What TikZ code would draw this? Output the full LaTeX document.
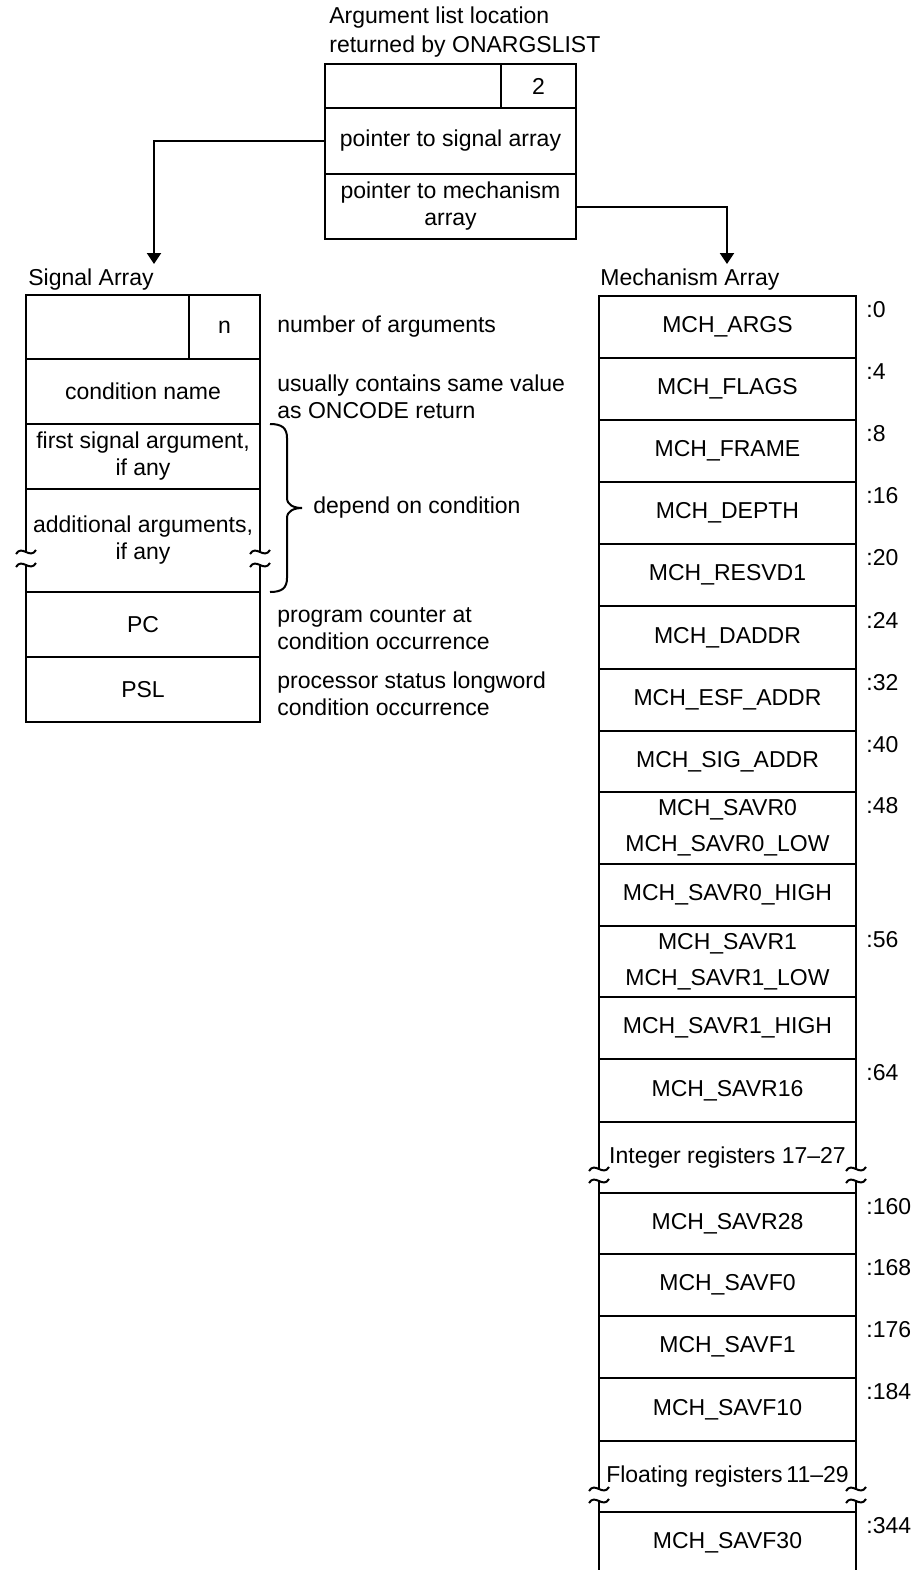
\documentclass[tikz,border=0pt]{standalone}
\usepackage{fontspec}
\setmainfont{Liberation Sans}
\usetikzlibrary{arrows.meta}

\tikzset{
	cell/.style={draw, line width=1pt, inner sep=0pt, align=center},
	note/.style={anchor=west, inner sep=0pt, align=left},
	off/.style={anchor=west, inner sep=0pt},
	ptr/.style={line width=1pt, -{Triangle[width=7pt,length=5.5pt]}},
	twoline/.style={font=\fontsize{11.5}{18}\selectfont}
}

% break mark across a vertical edge at x, between y1 and y2
\newcommand{\breakmark}[3]{%
	\fill[white] (#1-4,#2) rectangle (#1+4,#3);
	\draw[line width=1pt] (#1-10,#2+2) .. controls (#1-4,#2-8) and (#1+4,#2+8) .. (#1+10,#2-2);
	\draw[line width=1pt] (#1-10,#3+2) .. controls (#1-4,#3-8) and (#1+4,#3+8) .. (#1+10,#3-2);
}

\begin{document}
\begin{tikzpicture}[x=0.5pt, y=-0.5pt, font=\fontsize{11.5}{13.5}\selectfont]
		\useasboundingbox (0,0) rectangle (917,1570);

		% argument list
		\node[note, font=\fontsize{11.5}{14.5}\selectfont] (title) at (329,32.5) {Argument list location\\returned by ONARGSLIST};
		\node[cell, minimum width=88pt, minimum height=22pt] (argl) at (413,86) {};
		\node[cell, minimum width=37.5pt, minimum height=22pt] (argn) at (538.5,86) {2};
		\node[cell, minimum width=125.5pt, minimum height=33pt] (ptrsig) at (450.5,141) {pointer to signal array};
		\node[cell, minimum width=125.5pt, minimum height=32.5pt] (ptrmch) at (450.5,206.5) {pointer to mechanism\\array};

		\coordinate (sigtip) at (154,264);
		\coordinate (mchtip) at (727,264);
		\draw[ptr] (ptrsig.west) -| (sigtip);
		\draw[ptr] (ptrmch.east) -| (mchtip);

		% signal array
		\node[note] (sigtitle) at (28,280) {Signal Array};
		\node[cell, minimum width=81.5pt, minimum height=32pt] (sigl) at (107.5,327) {};
		\node[cell, minimum width=35.5pt, minimum height=32pt] (sign) at (224.5,327) {n};
		\node[cell, minimum width=117pt, minimum height=32.5pt] (signame) at (143,391.5) {condition name};
		\node[cell, minimum width=117pt, minimum height=32.5pt] (sigfirst) at (143,456.5) {first signal argument,\\if any};
		\node[cell, minimum width=117pt, minimum height=51.5pt] (sigadd) at (143,540.5) {additional arguments,\\if any};
		\node[cell, minimum width=117pt, minimum height=32.5pt] (sigpc) at (143,624.5) {PC};
		\node[cell, minimum width=117pt, minimum height=32.5pt] (sigpsl) at (143,689.5) {PSL};
		\breakmark{26}{552}{565}
		\breakmark{260}{552}{565}

		\node[note] (nnum) at (277,327) {number of arguments};
		\node[note] (nname) at (277,396.5) {usually contains same value\\as ONCODE return};
		\draw[line width=1pt] (270,424) .. controls (282,424) and (287,428) .. (287,438) -- (287,498)
			.. controls (287,505) and (294,508) .. (302,508) .. controls (294,508) and (287,511) .. (287,518)
			-- (287,578) .. controls (287,588) and (282,592) .. (270,592);
		\node[note] (ndep) at (313,508) {depend on condition};
		\node[note] (npc) at (277,629) {program counter at\\condition occurrence};
		\node[note] (npsl) at (277,693.5) {processor status longword\\condition occurrence};

		% mechanism array
		\node[note] (mchtitle) at (600,280) {Mechanism Array};
		\node[cell, minimum width=128.5pt, minimum height=31pt] (m1) at (727.5,327) {MCH\_ARGS};
		\node[cell, minimum width=128.5pt, minimum height=31pt] (m2) at (727.5,389) {MCH\_FLAGS};
		\node[cell, minimum width=128.5pt, minimum height=31pt] (m3) at (727.5,451) {MCH\_FRAME};
		\node[cell, minimum width=128.5pt, minimum height=31pt] (m4) at (727.5,513) {MCH\_DEPTH};
		\node[cell, minimum width=128.5pt, minimum height=31pt] (m5) at (727.5,575) {MCH\_RESVD1};
		\node[cell, minimum width=128.5pt, minimum height=31.5pt] (m6) at (727.5,637.5) {MCH\_DADDR};
		\node[cell, minimum width=128.5pt, minimum height=31pt] (m7) at (727.5,700) {MCH\_ESF\_ADDR};
		\node[cell, minimum width=128.5pt, minimum height=30.5pt] (m8) at (727.5,761.5) {MCH\_SIG\_ADDR};
		\node[cell, twoline, minimum width=128.5pt, minimum height=36pt] (m9) at (727.5,828) {MCH\_SAVR0\\MCH\_SAVR0\_LOW};
		\node[cell, minimum width=128.5pt, minimum height=31pt] (m10) at (727.5,895) {MCH\_SAVR0\_HIGH};
		\node[cell, twoline, minimum width=128.5pt, minimum height=35.5pt] (m11) at (727.5,961.5) {MCH\_SAVR1\\MCH\_SAVR1\_LOW};
		\node[cell, minimum width=128.5pt, minimum height=31pt] (m12) at (727.5,1028) {MCH\_SAVR1\_HIGH};
		\node[cell, minimum width=128.5pt, minimum height=31.5pt] (m13) at (727.5,1090.5) {MCH\_SAVR16};
		\node[cell, minimum width=128.5pt, minimum height=35.5pt] (m14) at (727.5,1157.5) {Integer registers 17--27};
		\node[cell, minimum width=128.5pt, minimum height=30.5pt] (m15) at (727.5,1223.5) {MCH\_SAVR28};
		\node[cell, minimum width=128.5pt, minimum height=31pt] (m16) at (727.5,1285) {MCH\_SAVF0};
		\node[cell, minimum width=128.5pt, minimum height=31pt] (m17) at (727.5,1347) {MCH\_SAVF1};
		\node[cell, minimum width=128.5pt, minimum height=31.5pt] (m18) at (727.5,1409.5) {MCH\_SAVF10};
		\node[cell, minimum width=128.5pt, minimum height=35.5pt] (m19) at (727.5,1476.5) {Floating registers\,11--29};
		\node[cell, minimum width=128.5pt, minimum height=31pt] (m20) at (727.5,1543) {MCH\_SAVF30};
		\breakmark{599}{1169}{1181}
		\breakmark{856}{1169}{1181}
		\breakmark{599}{1489}{1501}
		\breakmark{856}{1489}{1501}

		% offsets
		\node[off] (o1) at ([shift={(9,15)}]m1.north east) {:0};
		\node[off] (o2) at ([shift={(9,15)}]m2.north east) {:4};
		\node[off] (o3) at ([shift={(9,15)}]m3.north east) {:8};
		\node[off] (o4) at ([shift={(9,15)}]m4.north east) {:16};
		\node[off] (o5) at ([shift={(9,15)}]m5.north east) {:20};
		\node[off] (o6) at ([shift={(9,15)}]m6.north east) {:24};
		\node[off] (o7) at ([shift={(9,15)}]m7.north east) {:32};
		\node[off] (o8) at ([shift={(9,15)}]m8.north east) {:40};
		\node[off] (o9) at ([shift={(9,15)}]m9.north east) {:48};
		\node[off] (o11) at ([shift={(9,15)}]m11.north east) {:56};
		\node[off] (o13) at ([shift={(9,15)}]m13.north east) {:64};
		\node[off] (o15) at ([shift={(9,15)}]m15.north east) {:160};
		\node[off] (o16) at ([shift={(9,15)}]m16.north east) {:168};
		\node[off] (o17) at ([shift={(9,15)}]m17.north east) {:176};
		\node[off] (o18) at ([shift={(9,15)}]m18.north east) {:184};
		\node[off] (o20) at ([shift={(9,15)}]m20.north east) {:344};

	\end{tikzpicture}
\end{document}
